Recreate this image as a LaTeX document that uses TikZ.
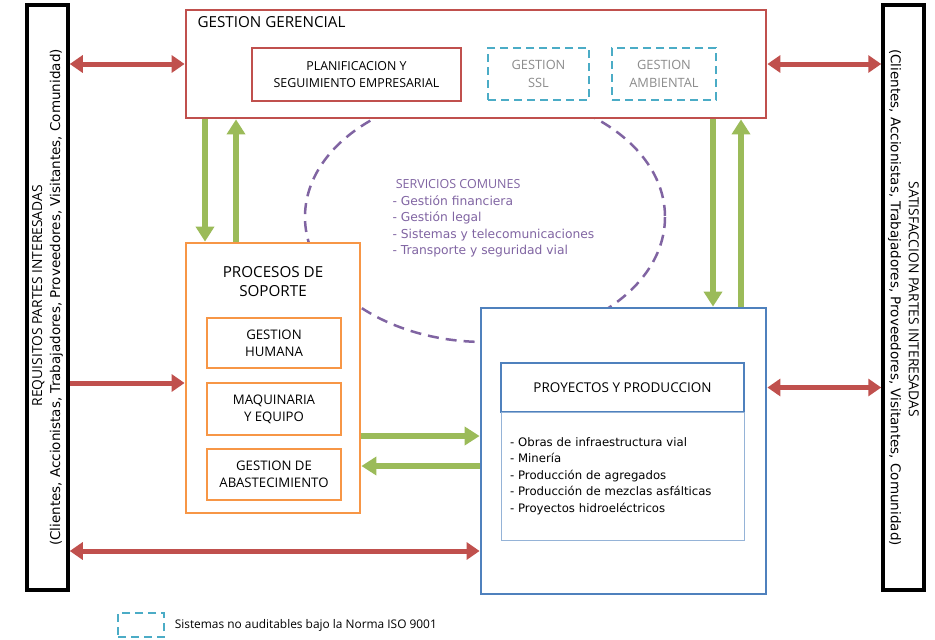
\documentclass[tikz,border=0pt]{standalone}
\usepackage{fontspec}
\setmainfont{DejaVu Sans}
\newfontfamily\capsfont{Open Sans}
\usetikzlibrary{arrows.meta,positioning}

\definecolor{rojo}{HTML}{C0504D}
\definecolor{naranja}{HTML}{F79646}
\definecolor{azul}{HTML}{4F81BD}
\definecolor{celeste}{HTML}{4BACC6}
\definecolor{verde}{HTML}{9BBB59}
\definecolor{morado}{HTML}{8064A2}
\definecolor{gris}{HTML}{8C8C8C}

\newcommand\tam[2]{\fontsize{#1}{#2}\selectfont}

\begin{document}
\begin{tikzpicture}[x=1pt,y=-1pt,
  caja/.style={draw,fill=white,line width=2.8pt,inner sep=0pt,align=center,font=\capsfont\tam{13.2}{17}},
  punteada/.style={caja,draw=celeste,dash pattern=on 8pt off 5pt,text=gris},
  lateral/.style={draw=black,line width=3.5pt,fill=white,minimum width=585,minimum height=41,inner sep=0pt,align=center,font=\tam{13.5}{18}},
  roja/.style={rojo,line width=5pt,-{Triangle[width=17pt,length=13pt]}},
  rojadoble/.style={roja,{Triangle[width=17pt,length=13pt]}-{Triangle[width=17pt,length=13pt]}},
  verdef/.style={verde,line width=6pt,-{Triangle[width=18pt,length=15pt]}}]

\useasboundingbox (0,0) rectangle (935,640);

% servicios comunes (queda detras de las cajas)
\draw[morado,line width=2.5pt,dash pattern=on 11pt off 7pt] (485,217) ellipse [x radius=180,y radius=125];
\node[anchor=north west,align=left,text=morado,font=\tam{12.3}{16.5}] (servicios) at (389,176)
  {{\capsfont\tam{12.5}{16.5} SERVICIOS COMUNES}\\
   - Gestión financiera\\
   - Gestión legal\\
   - Sistemas y telecomunicaciones\\
   - Transporte y seguridad vial};

% cajas laterales
\node[lateral,rotate=90] (requisitos) at (47.5,297.5)
  {{\capsfont\tam{13.8}{18} REQUISITOS PARTES INTERESADAS}\\
   (Clientes, Accionistas, Trabajadores, Proveedores, Visitantes, Comunidad)};
\node[lateral,rotate=-90] (satisfaccion) at (903.5,297.5)
  {{\capsfont\tam{13.8}{18} SATISFACCION PARTES INTERESADAS}\\
   (Clientes, Accionistas, Trabajadores, Proveedores, Visitantes, Comunidad)};

% gestion gerencial
\node[caja,draw=rojo,minimum width=580,minimum height=108] (gerencial) at (476,64) {};
\node[anchor=west,font=\capsfont\tam{15.2}{16}] (tgerencial) at (194,22) {GESTION GERENCIAL};
\node[caja,draw=rojo,font=\capsfont\tam{12.4}{17.5},minimum width=209,minimum height=53] (planificacion) at (356.5,74.5)
  {PLANIFICACION Y\\SEGUIMIENTO EMPRESARIAL};
\node[punteada,font=\capsfont\tam{12.8}{17.5},minimum width=101,minimum height=52] (ssl) at (538.5,74) {GESTION\\SSL};
\node[punteada,font=\capsfont\tam{12.8}{17.5},minimum width=104,minimum height=52] (ambiental) at (664,74) {GESTION\\AMBIENTAL};

% procesos de soporte
\node[caja,draw=naranja,minimum width=174,minimum height=270] (procesos) at (273,378) {};
\node[align=center,font=\capsfont\tam{15.2}{19}] (tprocesos) at (273,282) {PROCESOS DE\\SOPORTE};
\node[caja,draw=naranja,minimum width=134,minimum height=50] (humana) at (274,343) {GESTION\\HUMANA};
\node[caja,draw=naranja,minimum width=134,minimum height=52] (maquinaria) at (274,409) {MAQUINARIA\\Y EQUIPO};
\node[caja,draw=naranja,minimum width=134,minimum height=51] (abastecimiento) at (274,474.5) {GESTION DE\\ABASTECIMIENTO};

% proyectos y produccion
\node[caja,draw=azul,minimum width=285,minimum height=286] (proyectos) at (623.5,451) {};
\node[caja,draw=azul,line width=2pt,font=\capsfont\tam{13.5}{17},minimum width=243,minimum height=49] (tproyectos) at (622.5,387.5) {PROYECTOS Y PRODUCCION};
\node[draw=azul!60,line width=1pt,minimum width=243,minimum height=128,inner xsep=9pt,text width=225,
  align=left,font=\tam{11.7}{16.5}] (lineas) at (622.5,476)
  {- Obras de infraestructura vial\\
   - Minería\\
   - Producción de agregados\\
   - Producción de mezclas asfálticas\\
   - Proyectos hidroeléctricos};

% flechas
\coordinate (entrada) at ([yshift=-5pt]procesos.west);
\coordinate (nivelbajo) at (0,551);
\draw[rojadoble] (requisitos.south |- gerencial.west) -- (gerencial.west);
\draw[rojadoble] (gerencial.east) -- (satisfaccion.south |- gerencial.east);
\draw[roja] (requisitos.south |- entrada) -- (entrada);
\draw[rojadoble] (proyectos.east |- tproyectos) -- (satisfaccion.south |- tproyectos);
\draw[rojadoble] (requisitos.south |- nivelbajo) -- (proyectos.west |- nivelbajo);

\draw[verdef] ([xshift=-68pt]procesos.north |- gerencial.south) -- ([xshift=-68pt]procesos.north);
\draw[verdef] ([xshift=-37pt]procesos.north) -- ([xshift=-37pt]procesos.north |- gerencial.south);
\draw[verdef] ([xshift=89.5pt]proyectos.north |- gerencial.south) -- ([xshift=89.5pt]proyectos.north);
\draw[verdef] ([xshift=117.5pt]proyectos.north) -- ([xshift=117.5pt]proyectos.north |- gerencial.south);
\draw[verdef] ([yshift=-58pt]procesos.east) -- ([yshift=-58pt]procesos.east -| proyectos.west);
\draw[verdef] ([yshift=-88pt]procesos.east -| proyectos.west) -- ([yshift=-88pt]procesos.east);

% leyenda
\node[punteada,line width=2.5pt,minimum width=46,minimum height=24] (leyenda) at (141,625) {};
\node[right=6pt of leyenda,font=\capsfont\tam{11.9}{15}] (tleyenda) {Sistemas no auditables bajo la Norma ISO 9001};
\end{tikzpicture}
\end{document}
